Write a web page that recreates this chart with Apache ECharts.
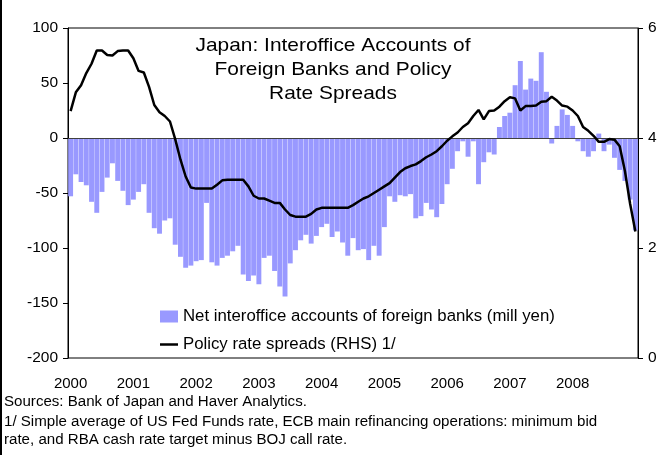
<!DOCTYPE html>
<html>
<head>
<meta charset="utf-8">
<script src="https://cdn.jsdelivr.net/npm/echarts@6/dist/echarts.min.js"></script>
<style>
html,body{margin:0;padding:0;background:#fff;}
#chart{width:666px;height:455px;}
</style>
</head>
<body>
<div id="chart"></div>
<script>
// Monthly, Jan 2000 .. Jan 2009
const startYear = 2000;
const monthCount = 109;
const yearLabels = ['2000','2001','2002','2003','2004','2005','2006','2007','2008'];

// Net interoffice accounts of foreign banks (mill yen), left axis
const netInteroffice = [
  -53,-33,-40,-43,-58,-68,-49,-36,-23,-39,-48,-61,
  -56,-49,-42,-68,-82,-87,-75,-73,-97,-108,-118,-116,
  -112,-111,-59,-113,-116,-109,-107,-103,-98,-124,-130,-125,
  -133,-109,-107,-121,-135,-144,-114,-102,-93,-88,-96,-89,
  -81,-78,-90,-85,-95,-107,-91,-102,-101,-111,-98,-107,
  -81,-53,-58,-52,-53,-51,-73,-71,-59,-65,-72,-60,
  -42,-28,-12,-3,-17,-3,-42,-22,-13,-15,10,20,
  23,48,70,44,54,52,78,42,-5,11,26,21,
  11,-3,-12,-17,-12,4,-12,-6,-18,-29,-39,-56,
  -84
];

// Policy rate spreads (RHS), right axis
const policySpread = [
  4.49,4.83,4.96,5.18,5.35,5.59,5.59,5.51,5.50,5.58,5.59,5.59,
  5.45,5.22,5.19,4.93,4.60,4.47,4.40,4.30,3.98,3.61,3.30,3.10,
  3.08,3.08,3.08,3.08,3.15,3.23,3.24,3.24,3.24,3.24,3.12,2.95,
  2.90,2.90,2.86,2.82,2.82,2.70,2.60,2.57,2.57,2.57,2.62,2.70,
  2.73,2.73,2.73,2.73,2.73,2.73,2.78,2.84,2.90,2.94,3.00,3.06,
  3.12,3.18,3.28,3.38,3.45,3.49,3.52,3.58,3.65,3.70,3.76,3.85,
  3.95,4.03,4.10,4.20,4.27,4.40,4.51,4.34,4.49,4.50,4.57,4.67,
  4.74,4.72,4.50,4.58,4.58,4.59,4.66,4.67,4.75,4.68,4.59,4.57,
  4.50,4.40,4.20,4.13,4.04,3.93,3.93,3.98,3.97,3.85,3.40,2.80,
  2.30
];

const leftTicks = [-200,-150,-100,-50,0,50,100];
const rightTicks = [0,2,4,6];

const titleLines = ['Japan: Interoffice Accounts of','Foreign Banks and Policy','Rate Spreads'];
const footLines = [
  'Sources: Bank of Japan and Haver Analytics.',
  '1/ Simple average of US Fed Funds rate, ECB main refinancing operations: minimum bid',
  'rate, and RBA cash rate target minus BOJ call rate.'
];
const seriesNames = ['Net interoffice accounts of foreign banks (mill yen)','Policy rate spreads (RHS) 1/'];

const categories = [];
for (let i = 0; i < monthCount; i++) {
  const y = startYear + Math.floor(i / 12);
  const m = (i % 12) + 1;
  categories.push(y + '-' + (m < 10 ? '0' + m : m));
}

const FONT = '"Liberation Sans", Arial, sans-serif';
const chart = echarts.init(document.getElementById('chart'), null, {renderer: 'canvas'});

const graphics = [
  {type: 'line', shape: {x1: 1, y1: 0, x2: 1, y2: 455}, style: {stroke: '#000', lineWidth: 2}, silent: true}
];
titleLines.forEach((t, i) => {
  graphics.push({type: 'text', x: 333, y: 46 + i * 24, scaleX: 1.1, silent: true,
    style: {text: t, font: '19px ' + FONT, fill: '#000', textAlign: 'center', textVerticalAlign: 'middle'}});
});
footLines.forEach((t, i) => {
  graphics.push({type: 'text', x: 4, y: [402, 421.5, 440][i], silent: true,
    style: {text: t, font: '15.1px ' + FONT, fill: '#000', textAlign: 'left', textVerticalAlign: 'middle'}});
});

chart.setOption({
  animation: false,
  backgroundColor: '#fff',
  grid: {left: 68, right: 28, top: 28, bottom: 97, show: true, borderColor: '#000', borderWidth: 1, backgroundColor: 'transparent'},
  legend: {
    orient: 'vertical', left: 155, top: 303, itemWidth: 18, itemHeight: 12, itemGap: 11,
    textStyle: {fontFamily: FONT, fontSize: 16.8, color: '#000'},
    data: [
      {name: seriesNames[0], icon: 'rect'},
      {name: seriesNames[1], icon: 'path://M0,0 M0,4.75 L18,4.75 L18,7.25 L0,7.25 Z M18,12'}
    ]
  },
  xAxis: {
    type: 'category', data: categories, boundaryGap: true,
    axisLine: {show: true, lineStyle: {color: '#808080', width: 1}},
    axisTick: {show: false},
    axisLabel: {
      interval: 0, margin: 18, fontFamily: FONT, fontSize: 15, color: '#000',
      formatter: (v, idx) => {
        if (idx % 12 === 0) { const k = idx / 12; return k < yearLabels.length ? yearLabels[k] : ''; }
        return '';
      }
    },
    splitLine: {show: false}
  },
  yAxis: [
    {
      type: 'value', min: leftTicks[0], max: leftTicks[leftTicks.length - 1], interval: 50, position: 'left',
      axisLine: {show: true, lineStyle: {color: '#000', width: 1}},
      axisTick: {show: true, inside: false, length: 5, lineStyle: {color: '#000'}},
      axisLabel: {margin: 10, fontFamily: FONT, fontSize: 15.5, color: '#000'},
      splitLine: {show: false}
    },
    {
      type: 'value', min: rightTicks[0], max: rightTicks[rightTicks.length - 1], interval: 2, position: 'right',
      axisLine: {show: true, lineStyle: {color: '#000', width: 1}},
      axisTick: {show: true, inside: false, length: 5, lineStyle: {color: '#000'}},
      axisLabel: {margin: 10, fontFamily: FONT, fontSize: 15.5, color: '#000'},
      splitLine: {show: false}
    }
  ],
  series: [
    {
      name: seriesNames[0], type: 'bar', data: netInteroffice, yAxisIndex: 0,
      barCategoryGap: '6%', itemStyle: {color: '#9999FF'}, z: 2,
      markLine: {
        silent: true, symbol: ['none', 'none'], label: {show: false},
        lineStyle: {color: '#404040', width: 1, type: 'solid'},
        data: [{yAxis: 0}]
      }
    },
    {
      name: seriesNames[1], type: 'line', data: policySpread, yAxisIndex: 1,
      symbol: 'none', showSymbol: false, smooth: false,
      lineStyle: {color: '#000', width: 2.5}, itemStyle: {color: '#000'}, z: 5
    }
  ],
  graphic: graphics
});
</script>
</body>
</html>
